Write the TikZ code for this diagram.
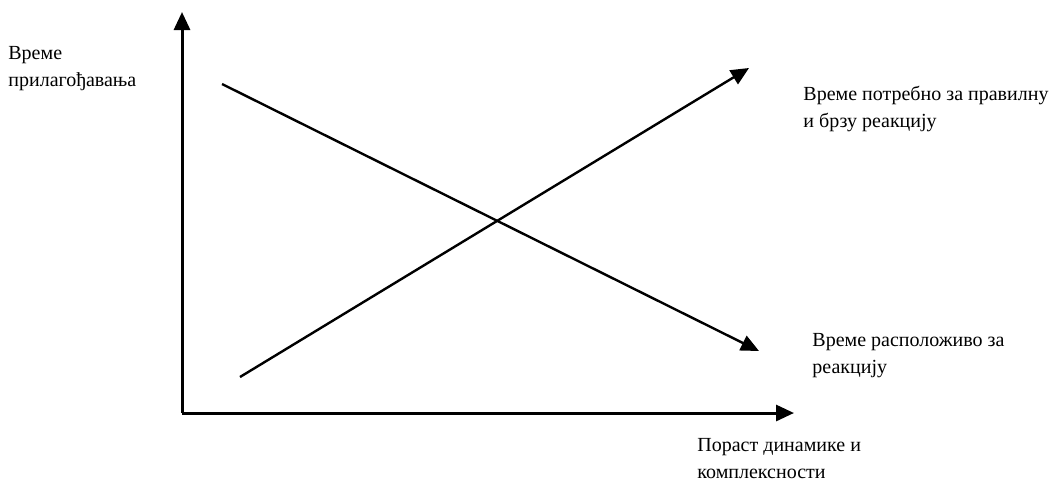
\documentclass[tikz,border=0pt]{standalone}
\usepackage{fontspec}
\setmainfont{Liberation Serif}
\usetikzlibrary{arrows.meta}

\begin{document}
\begin{tikzpicture}[x=0.5pt,y=-0.5pt,
  axis/.style={line width=1.5pt,-{Triangle[length=9pt,width=8pt]}},
  trend/.style={line width=1.2pt,-{Triangle[length=9pt,width=8pt]}},
  lbl/.style={anchor=base west,align=left,inner sep=0pt,font=\fontsize{10}{13.5}\selectfont}]
\path[use as bounding box] (0,0) rectangle (1063,488);
% axes
\coordinate (O) at (182,413);
\coordinate (Ytip) at (182,12);
\coordinate (Xtip) at (794,413);
\draw[axis] (O) -- (Ytip);
\draw[axis] (O) -- (Xtip);
% trends
\coordinate (riseA) at (240,377);
\coordinate (riseB) at (749,68);
\coordinate (fallA) at (222,84);
\coordinate (fallB) at (759,351);
\draw[trend] (riseA) -- (riseB);
\draw[trend] (fallA) -- (fallB);
% labels (base = last line)
\node[lbl] (ylabel) at (8,86) {Време\\прилагођавања};
\node[lbl] (needed) at (803,127) {Време потребно за правилну\\и брзу реакцију};
\node[lbl] (avail) at (812,373) {Време расположиво за\\реакцију};
\node[lbl] (xlabel) at (697,478) {Пораст динамике и\\комплексности};
\end{tikzpicture}
\end{document}
